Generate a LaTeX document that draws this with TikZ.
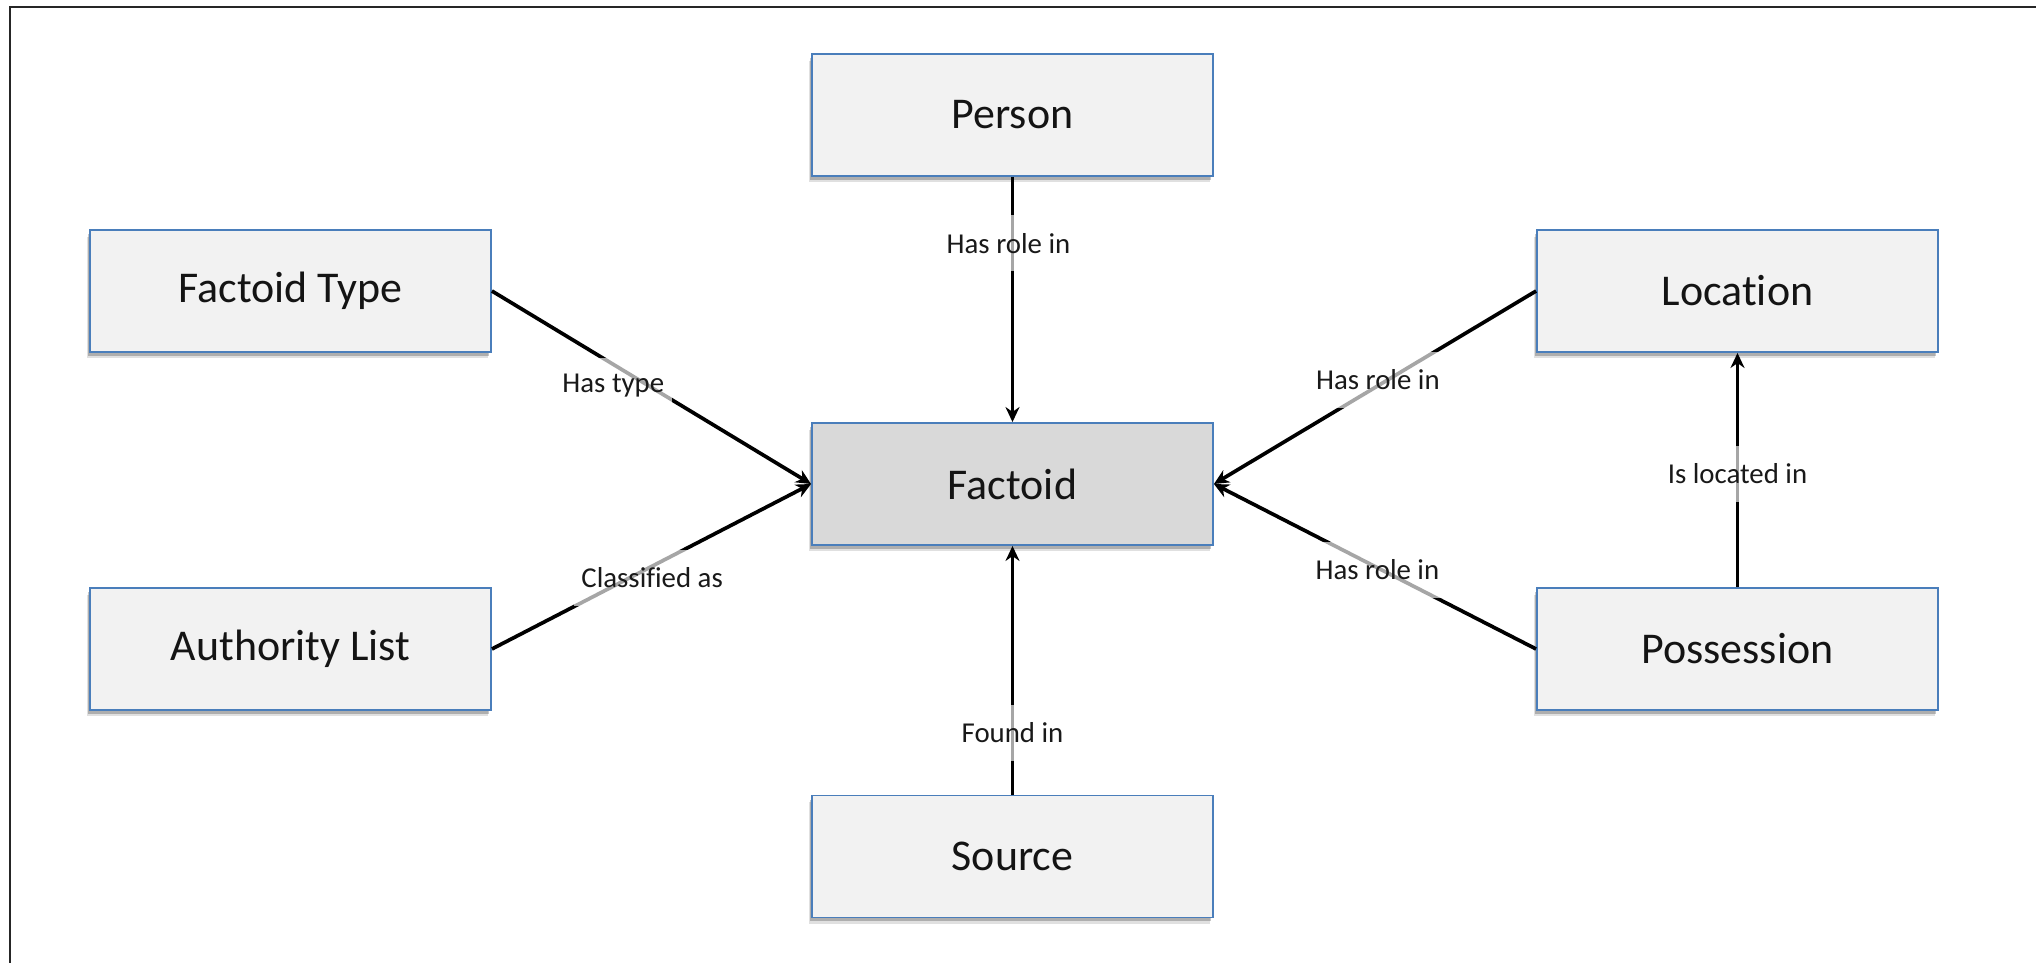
\documentclass[tikz,border=0pt]{standalone}
\usepackage{fontspec}
\setmainfont{Carlito}[Ligatures={NoCommon}]
\usetikzlibrary{arrows.meta,shadows}
\definecolor{boxfill}{HTML}{F2F2F2}
\definecolor{corefill}{HTML}{D9D9D9}
\definecolor{boxline}{HTML}{4A7EBB}
\tikzset{
  entity/.style={draw=boxline, line width=1.1pt, fill=boxfill,
    minimum width=8.02cm, minimum height=2.44cm, inner sep=0pt,
    font=\fontsize{25}{30}\selectfont, text=black!92,
    general shadow={shadow xshift=-0.06cm, shadow yshift=-0.13cm, opacity=0.12, fill=black},
    general shadow={shadow xshift=-0.04cm, shadow yshift=-0.08cm, opacity=0.22, fill=black}},
  core/.style={entity, fill=corefill},
  rel/.style={draw=black, line width=2.1pt, -{Stealth[length=0.3cm, width=0.28cm]}},
  rellabel/.style={fill=white, fill opacity=0.65, text opacity=1, text=black!90,
    font=\fontsize{16.4}{19}\selectfont, inner xsep=0.15cm, inner ysep=0pt,
    minimum height=1.12cm}
}
\begin{document}
\begin{tikzpicture}[x=0.02cm, y=-0.02cm]
\useasboundingbox (0,0) rectangle (2036,963);
\fill[white] (0,0) rectangle (2036,963);
% frame
\draw[line width=1.6pt, black!85] (10,963) -- (10,7) -- (2036,7);
% nodes
\node[entity] (person) at (1012.5,115) {Person};
\node[entity] (ftype) at (290.5,291) {Factoid Type};
\node[entity] (loc) at (1737.5,291) {Location};
\node[core] (factoid) at (1012.5,484) {Factoid};
\node[entity] (auth) at (290.5,649) {Authority List};
\node[entity] (poss) at (1737.5,649) {Possession};
\node[entity] (source) at (1012.5,856.5) {Source};
% connectors
\draw[rel] (person.south) -- node[rellabel, pos=0.27, xshift=-0.08cm] {Has role in} (factoid.north);
\draw[rel] (ftype.east) -- node[rellabel, pos=0.49, xshift=-0.7cm] {Has type} (factoid.west);
\draw[rel] (auth.east) -- node[rellabel, pos=0.43, xshift=0.46cm] {Classified as} (factoid.west);
\draw[rel] (loc.west) -- node[rellabel, pos=0.46, xshift=-0.2cm] {Has role in} (factoid.east);
\draw[rel] (poss.west) -- node[rellabel, pos=0.48, xshift=-0.08cm] {Has role in} (factoid.east);
\draw[rel] (poss.north) -- node[rellabel, pos=0.483] {Is located in} (loc.south);
\draw[rel] (source.north) -- node[rellabel, pos=0.248] {Found in} (factoid.south);
\end{tikzpicture}
\end{document}
